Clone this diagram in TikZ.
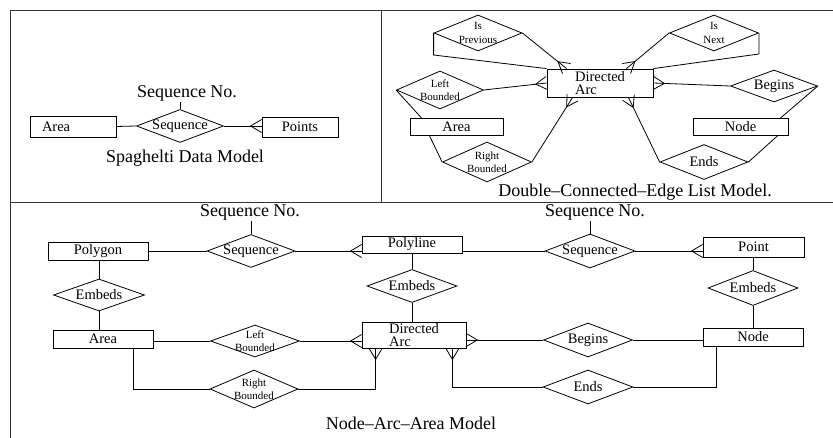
\documentclass[tikz,border=0pt]{standalone}
\usepackage{fontspec}
\setmainfont{Liberation Serif}
\usetikzlibrary{shapes.geometric,decorations.markings}

\begin{document}
\begin{tikzpicture}[x=1pt, y=-1pt, line width=0.8pt]

% Set the overall size of the page
\useasboundingbox (0,0) rectangle (833,438);

% Define styles for entities, relations and texts
\tikzstyle{entity} = [rectangle, draw, minimum width=100pt, minimum height=18pt, inner sep=0pt, font=\fontsize{14.5}{13.5}\selectfont]
\tikzstyle{rel} = [diamond, draw, minimum width=88pt, minimum height=33pt, inner sep=0pt]
\tikzstyle{reltext} = [font=\fontsize{14.5}{13.5}\selectfont, inner sep=0pt]
\tikzstyle{smalltext} = [font=\fontsize{11}{13.5}\selectfont, align=center, inner sep=0pt]
\tikzstyle{caption} = [font=\fontsize{18}{20}\selectfont, inner sep=1pt]

%Define crow's foot at the end of a connector
\tikzstyle{crow} = [postaction={decorate}, decoration={markings, mark=at position 1 with {\draw (0pt,6.5pt) -- (-11pt,0pt) -- (0pt,-6.5pt);}}]

% Frame of the three panels
\draw[line width=1pt, black!80] (833,11) -- (10,11) -- (10,438);
\draw[line width=1pt, black!80] (381,11) -- (381,203);
\draw[line width=1pt, black!80] (10,203) -- (833,203);

% Spaghelti data model
\node[caption] (seqnoA) at (187,93) {Sequence No.};
\node[rel, minimum width=87pt, label={[reltext]center:Sequence}] (seqA) at (180,126) {};
\node[entity, minimum width=86pt, minimum height=21pt, text width=62pt, align=left, inner xsep=12pt] (areaA) at (73,126.5) {Area};
\node[entity, minimum width=76pt, minimum height=20pt] (pointsA) at (300,127) {Points};
\node[caption] (capA) at (185,158) {Spaghelti Data Model};

\draw (seqA.north) -- (seqA.north |- seqnoA.south);
\draw (areaA.east) -- (seqA.west);
\draw[crow] (seqA.east) -- (seqA.east -| pointsA.west);

% Double-connected-edge list model
\node[entity, minimum width=106pt, minimum height=28pt, align=left] (arcB) at (600,83) {Directed\\Arc};
\node[rel, minimum height=36pt, label={[smalltext]center:Is\\Previous}] (isprevB) at (478,33) {};
\node[rel, minimum width=89pt, minimum height=36pt, label={[smalltext]center:Is\\Next}] (isnextB) at (714,33) {};
\node[rel, minimum width=87pt, minimum height=38pt, label={[smalltext]center:Left\\Bounded}] (lbB) at (440,90) {};
\node[entity, minimum width=93pt, minimum height=17pt] (areaB) at (456.5,127) {Area};
\node[rel, minimum width=89pt, minimum height=40pt, label={[smalltext]center:Right\\Bounded}] (rbB) at (487,162) {};
\node[rel, minimum width=87pt, minimum height=32pt, label={[reltext]center:Begins}] (beginsB) at (774,86) {};
\node[entity, minimum width=95pt, minimum height=17pt] (nodeB) at (740.5,127) {Node};
\node[rel, minimum height=35pt, label={[reltext]center:Ends}] (endsB) at (704,162) {};
\node[caption] (capB) at (635,192) {Double--Connected--Edge List Model.};

\draw (isprevB.west) -- ++(0,22) -- (arcB.north west);
\draw[crow] (isprevB.east) -- ([xshift=20pt]arcB.north west);
\draw[crow] (isnextB.west) -- ([xshift=-27pt]arcB.north east);
\draw (isnextB.east) -- ++(0,21) -- (arcB.north east);
\draw[crow] (lbB.east) -- (arcB.west);
\draw (lbB.west) -- ([xshift=12pt]areaB.north west);
\draw (rbB.west) -- ([xshift=20pt]areaB.south west);
\draw[crow] (rbB.east) -- ([xshift=26pt]arcB.south west);
\draw[crow] (beginsB.west) -- (arcB.east);
\draw (beginsB.east) -- ([xshift=-8pt]nodeB.north east);
\draw[crow] (endsB.west) -- ([xshift=-25pt]arcB.south east);
\draw (endsB.east) -- ([xshift=-11pt]nodeB.south east);

% Node-arc-area model
\node[caption] (seqnoC) at (250,212) {Sequence No.};
\node[rel, label={[reltext]center:Sequence}] (seqC) at (251,251) {};
\node[entity] (polygonC) at (98,251) {Polygon};
\node[entity, minimum height=17pt] (polylineC) at (412,244.5) {Polyline};
\node[caption] (seqnoD) at (595,212) {Sequence No.};
\node[rel, minimum width=90pt, minimum height=34pt, label={[reltext]center:Sequence}] (seqD) at (590,251) {};
\node[entity, minimum width=101pt, minimum height=20pt] (pointC) at (753.5,247) {Point};
\node[rel, minimum width=91pt, minimum height=32pt, label={[reltext]center:Embeds}] (embedsC) at (99,295) {};
\node[rel, minimum width=90pt, label={[reltext]center:Embeds}] (embedsD) at (412,286) {};
\node[rel, minimum width=90pt, minimum height=35pt, label={[reltext]center:Embeds}] (embedsE) at (753,288) {};
\node[entity] (areaC) at (103,339) {Area};
\node[rel, minimum width=89pt, minimum height=32pt, label={[smalltext]center:Left\\Bounded}] (lbC) at (255,341) {};
\node[entity, minimum width=104pt, minimum height=26pt, align=left] (arcC) at (414,335) {Directed\\Arc};
\node[rel, minimum width=89pt, minimum height=34pt, label={[reltext]center:Begins}] (beginsC) at (588,340) {};
\node[entity] (nodeC) at (753,337) {Node};
\node[rel, minimum height=38pt, label={[smalltext]center:Right\\Bounded}] (rbC) at (254,389) {};
\node[rel, minimum width=90pt, minimum height=34pt, label={[reltext]center:Ends}] (endsC) at (588,387) {};
\node[caption] (capC) at (411,423) {Node--Arc--Area Model};

\draw (seqC.north) -- (seqC.north |- seqnoC.south);
\draw (polygonC.east |- seqC.west) -- (seqC.west);
\draw[crow] (seqC.east) -- (seqC.east -| polylineC.west);
\draw (seqD.north) -- (seqD.north |- seqnoD.south);
\draw (seqD.west -| polylineC.east) -- (seqD.west);
\draw[crow] (seqD.east) -- (seqD.east -| pointC.west);
\draw (embedsC.north |- polygonC.south) -- (embedsC.north);
\draw (embedsC.south) -- (embedsC.south |- areaC.north);
\draw (embedsD.north |- polylineC.south) -- (embedsD.north);
\draw (embedsD.south) -- (embedsD.south |- arcC.north);
\draw (embedsE.north |- pointC.south) -- (embedsE.north);
\draw (embedsE.south) -- (embedsE.south |- nodeC.north);
\draw (lbC.west -| areaC.east) -- (lbC.west);
\draw[crow] (lbC.east) -- (lbC.east -| arcC.west);
\draw ([xshift=-20pt]areaC.south east) |- (rbC.west);
\draw[crow] (rbC.east) -| ([xshift=14pt]arcC.south west);
\draw[crow] (beginsC.west) -- (beginsC.west -| arcC.east);
\draw (beginsC.east) -- (beginsC.east -| nodeC.west);
\draw[crow] (endsC.west) -| ([xshift=-14pt]arcC.south east);
\draw (endsC.east) -| ([xshift=14pt]nodeC.south west);

\end{tikzpicture}
\end{document}
